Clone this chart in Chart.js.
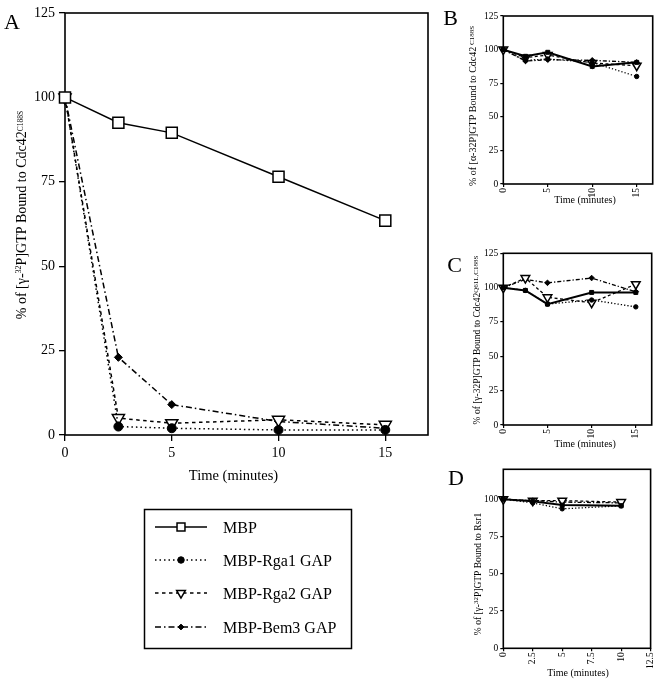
<!DOCTYPE html>
<html>
<head>
<meta charset="utf-8">
<script src="https://cdn.jsdelivr.net/npm/chart.js@4.4.1/dist/chart.umd.min.js"></script>
<style>
body { margin: 0; background: #fff; }
canvas { position: absolute; }
</style>
</head>
<body>
<canvas id="chartA" width="440" height="682" style="left:0px;top:0px"></canvas>
<canvas id="chartB" width="223" height="215" style="left:440px;top:0px"></canvas>
<canvas id="chartC" width="223" height="232" style="left:440px;top:220px"></canvas>
<canvas id="chartD" width="223" height="227" style="left:440px;top:455px"></canvas>
<script>
var SERIF = '"Liberation Serif", "Times New Roman", serif';

// series labels (same four in every panel)
var seriesNames = ['MBP', 'MBP-Rga1 GAP', 'MBP-Rga2 GAP', 'MBP-Bem3 GAP'];

// panel A - [g-32P]GTP on Cdc42 C188S
var minutesA = [0, 2.5, 5, 10, 15];
var mbpA  = [100, 92.5, 89.5, 76.5, 63.5];
var rga1A = [100, 2.5, 2, 1.5, 1.5];
var rga2A = [100, 5, 3.5, 4.5, 3];
var bem3A = [100, 23, 9, 4, 2];

// panel B - [a-32P]GTP on Cdc42 C188S
var minutesB = [0, 2.5, 5, 10, 15];
var mbpB  = [100, 95, 98, 87.5, 90.5];
var rga1B = [100, 92, 93, 90.5, 80];
var rga2B = [100, 94, 96, 90, 88];
var bem3B = [100, 91.5, 92.5, 92, 90.5];

// panel C - Cdc42 Q61L,C188S
var minutesC = [0, 2.5, 5, 10, 15];
var mbpC  = [100, 98, 88, 96.5, 96.5];
var rga1C = [100, 98, 88, 91, 86];
var rga2C = [100, 107, 93, 89, 102.5];
var bem3C = [100, 106, 103.5, 107, 97];

// panel D - Rsr1
var minutesD = [0, 2.5, 5, 10];
var mbpD  = [100, 98.5, 96, 95.5];
var rga1D = [100, 97.5, 93.5, 95.5];
var rga2D = [100, 99, 99, 98];
var bem3D = [100, 99, 98, 97.5];

// tick labels
var yTicks = [0, 25, 50, 75, 100, 125];
var xTicksABC = [0, 5, 10, 15];
var xTicksD = [0, 2.5, 5, 7.5, 10, 12.5];

var bigStyles = [
  {borderWidth: 1.5, pointStyle: 'rect', pointRadius: 7.8, pointBackgroundColor: '#fff', pointBorderWidth: 1.5},
  {borderWidth: 1.5, borderDash: [1.5, 3], pointStyle: 'circle', pointRadius: 4.5, pointBackgroundColor: '#000', pointBorderWidth: 1},
  {borderWidth: 1.5, borderDash: [3.5, 3.5], pointStyle: 'triangle', pointRotation: 180, pointRadius: 7, pointBackgroundColor: '#fff', pointBorderWidth: 1.5},
  {borderWidth: 1.5, borderDash: [6, 3, 1.5, 3], pointStyle: 'rectRot', pointRadius: 4, pointBackgroundColor: '#000', pointBorderWidth: 1}
];
var smallStyles = [
  {borderWidth: 2, pointStyle: 'rect', pointRadius: 2.8, pointBackgroundColor: '#000', pointBorderWidth: 1},
  {borderWidth: 1.3, borderDash: [1.3, 2], pointStyle: 'circle', pointRadius: 2.2, pointBackgroundColor: '#000', pointBorderWidth: 1},
  {borderWidth: 1.3, borderDash: [3, 2.5], pointStyle: 'triangle', pointRotation: 180, pointRadius: 5, pointBackgroundColor: '#fff', pointBorderWidth: 1.5},
  {borderWidth: 1.3, borderDash: [4, 2, 1.3, 2], pointStyle: 'rectRot', pointRadius: 2.8, pointBackgroundColor: '#000', pointBorderWidth: 1}
];

function framePlugin(w) {
  return {
    id: 'frame',
    beforeDatasetsDraw: function(chart) {
      var a = chart.chartArea, ctx = chart.ctx;
      ctx.save();
      ctx.strokeStyle = '#000';
      ctx.lineWidth = w;
      ctx.strokeRect(a.left, a.top, a.right - a.left, a.bottom - a.top);
      ctx.restore();
    }
  };
}

// text with mixed sizes (superscripts etc), optionally rotated
function textsPlugin(items) {
  return {
    id: 'texts',
    afterDraw: function(chart) {
      var ctx = chart.ctx;
      items.forEach(function(it) {
        ctx.save();
        ctx.translate(it.x, it.y);
        if (it.rot) ctx.rotate(it.rot);
        ctx.fillStyle = '#000';
        ctx.textBaseline = 'alphabetic';
        ctx.textAlign = 'left';
        var w = 0;
        it.segs.forEach(function(s) { ctx.font = s[1] + 'px ' + SERIF; w += ctx.measureText(s[0]).width; });
        var cx = -w / 2;
        it.segs.forEach(function(s) {
          ctx.font = s[1] + 'px ' + SERIF;
          ctx.fillText(s[0], cx, s[2] || 0);
          cx += ctx.measureText(s[0]).width;
        });
        ctx.restore();
      });
    }
  };
}

var legendPlugin = {
  id: 'boxLegend',
  afterDraw: function(chart) {
    var ctx = chart.ctx;
    var rows = [527, 560, 593, 627];
    ctx.save();
    ctx.strokeStyle = '#000';
    ctx.lineWidth = 1.5;
    ctx.strokeRect(144.5, 509.5, 207, 139);
    chart.data.datasets.forEach(function(ds, i) {
      var y = rows[i];
      ctx.setLineDash(ds.borderDash || []);
      ctx.lineWidth = ds.borderWidth;
      ctx.beginPath();
      ctx.moveTo(155, y);
      ctx.lineTo(207, y);
      ctx.stroke();
      ctx.setLineDash([]);
      ctx.fillStyle = ds.pointBackgroundColor;
      ctx.lineWidth = ds.pointBorderWidth;
      Chart.helpers.drawPoint(ctx, {
        pointStyle: ds.pointStyle, radius: ds.pointRadius * 0.72,
        rotation: ds.pointRotation || 0, borderWidth: ds.pointBorderWidth
      }, 181, y);
      ctx.fillStyle = '#000';
      ctx.font = '16px ' + SERIF;
      ctx.textBaseline = 'alphabetic';
      ctx.fillText(ds.label, 223, y + 5.5);
    });
    ctx.restore();
  }
};

function pickTicks(list) {
  return function(scale) {
    scale.ticks = list.filter(function(v) { return v >= scale.min - 1e-9 && v <= scale.max + 1e-9; })
      .map(function(v) { return {value: v}; });
  };
}

function panel(id, cfg) {
  var datasets = cfg.values.map(function(vals, i) {
    return Object.assign({
      label: seriesNames[i],
      data: cfg.xs.map(function(x, j) { return {x: x, y: vals[j]}; }),
      clip: false, fill: false, tension: 0,
      borderColor: '#000', pointBorderColor: '#000'
    }, cfg.styles[i]);
  });
  var tickFont = {family: SERIF, size: cfg.tickSize};
  return new Chart(document.getElementById(id), {
    type: 'line',
    data: {datasets: datasets},
    options: {
      responsive: false,
      animation: false,
      devicePixelRatio: 1,
      layout: {padding: cfg.pad},
      plugins: {legend: {display: false}, tooltip: {enabled: false}},
      scales: {
        x: {
          type: 'linear', min: 0, max: cfg.xMax,
          afterBuildTicks: pickTicks(cfg.xTicks),
          afterFit: function(s) { s.height = cfg.xH; },
          border: {display: false},
          grid: {drawOnChartArea: false, tickLength: cfg.tickLen, tickColor: '#000', lineWidth: cfg.tickW},
          ticks: {color: '#000', font: tickFont, padding: cfg.xPad, minRotation: cfg.rot, maxRotation: cfg.rot, autoSkip: false}
        },
        y: {
          type: 'linear', min: 0, max: cfg.yMax,
          afterBuildTicks: pickTicks(yTicks),
          afterFit: function(s) { s.width = cfg.yW; },
          border: {display: false},
          grid: {drawOnChartArea: false, tickLength: cfg.tickLen, tickColor: '#000', lineWidth: cfg.tickW},
          ticks: {color: '#000', font: tickFont, padding: cfg.yPad, autoSkip: false}
        }
      }
    },
    plugins: [framePlugin(cfg.frameW), textsPlugin(cfg.texts)].concat(cfg.extra || [])
  });
}

var UP = -Math.PI / 2;

panel('chartA', {
  xs: minutesA, values: [mbpA, rga1A, rga2A, bem3A], styles: bigStyles,
  pad: {left: 0, top: 13, right: 12, bottom: 217}, yW: 65, xH: 30,
  xMax: 17, yMax: 125, xTicks: xTicksABC, rot: 0,
  tickSize: 14, tickLen: 6, tickW: 1.3, xPad: 4, yPad: 4, frameW: 1.6,
  texts: [
    {x: 12, y: 29, segs: [['A', 22]]},
    {x: 26, y: 215, rot: UP, segs: [['% of [\u03b3-', 14], ['32', 8, -5], ['P]GTP Bound to Cdc42', 14], ['C188S', 7.5, -3]]},
    {x: 233.5, y: 480, segs: [['Time (minutes)', 14.5]]}
  ],
  extra: [legendPlugin]
});

panel('chartB', {
  xs: minutesB, values: [mbpB, rga1B, rga2B, bem3B], styles: smallStyles,
  pad: {left: 0, top: 16, right: 10.3, bottom: 11}, yW: 63.3, xH: 20,
  xMax: 16.8, yMax: 125, xTicks: xTicksABC, rot: 90,
  tickSize: 9.5, tickLen: 3, tickW: 1.2, xPad: 1, yPad: 2, frameW: 1.6,
  texts: [
    {x: 10.5, y: 25, segs: [['B', 22]]},
    {x: 36, y: 106, rot: UP, segs: [['% of [\u03b1-32P]GTP Bound to Cdc42', 10], [' C188S', 7, -2]]},
    {x: 145, y: 203, segs: [['Time (minutes)', 10]]}
  ]
});

panel('chartC', {
  xs: minutesC, values: [mbpC, rga1C, rga2C, bem3C], styles: smallStyles,
  pad: {left: 0, top: 33.3, right: 11.3, bottom: 7}, yW: 63.3, xH: 20,
  xMax: 16.8, yMax: 125, xTicks: xTicksABC, rot: 90,
  tickSize: 9.5, tickLen: 3, tickW: 1.2, xPad: 1, yPad: 2, frameW: 1.6,
  texts: [
    {x: 14.5, y: 52, segs: [['C', 22]]},
    {x: 40, y: 120, rot: UP, segs: [['% of [\u03b3-32P]GTP Bound to Cdc42', 9.5], ['Q61L,C188S', 7, -2]]},
    {x: 145, y: 227, segs: [['Time (minutes)', 10]]}
  ]
});

panel('chartD', {
  xs: minutesD, values: [mbpD, rga1D, rga2D, bem3D], styles: smallStyles,
  pad: {left: 0, top: 14.3, right: 9.7, bottom: 13.7}, yW: 63.3, xH: 20,
  xMax: 12.5, yMax: 120, xTicks: xTicksD, rot: 90,
  tickSize: 9.5, tickLen: 3, tickW: 1.2, xPad: 1, yPad: 2, frameW: 1.6,
  texts: [
    {x: 16, y: 30, segs: [['D', 22]]},
    {x: 41, y: 119, rot: UP, segs: [['% of [\u03b3-', 9.5], ['32', 7, -3.5], ['P]GTP Bound to Rsr1', 9.5]]},
    {x: 138, y: 221, segs: [['Time (minutes)', 10]]}
  ]
});
</script>
</body>
</html>
